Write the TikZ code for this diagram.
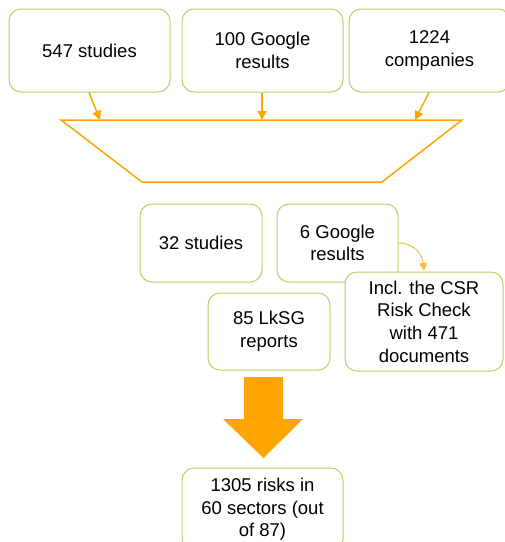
\documentclass[tikz,border=0pt]{standalone}
\usepackage{fontspec}
\setmainfont{Liberation Sans}
\usetikzlibrary{arrows.meta}
\definecolor{boxgreen}{RGB}{190,205,100}
\definecolor{orng}{RGB}{255,165,0}
\definecolor{lorng}{RGB}{255,185,70}
\begin{document}
\begin{tikzpicture}[x=1pt,y=1pt,
 box/.style={draw=boxgreen, line width=1pt, rounded corners=12pt, fill=white, align=center,
   font=\fontsize{18.5}{22.7}\selectfont, inner sep=0pt},
 arr/.style={draw=orng, line width=1.4pt, -{Triangle[length=9pt,width=9pt]}}]
\useasboundingbox (0,0) rectangle (505,-542);
\clip (0,0) rectangle (505,-542);
% top boxes
\node[box, minimum width=161pt, minimum height=83pt] (b1) at (89.5,-50.5) {547 studies};
\node[box, minimum width=161pt, minimum height=83pt] (b2) at (262.5,-50.5) {100 Google\\results};
\node[box, minimum width=161pt, minimum height=83pt] (b3) at (429.5,-50.5) {1224\\companies};
% funnel
\coordinate (t1) at (61,-120);
\coordinate (t2) at (462,-120);
\coordinate (t3) at (382,-182);
\coordinate (t4) at (142,-182);
\draw[orng, line width=1.5pt] (t1) -- (t2) -- (t3) -- (t4) -- cycle;
\coordinate (a1) at (100,-120);
\coordinate (a2) at (262,-120);
\coordinate (a3) at (415,-120);
\draw[arr] (b1.south -| 89,0) -- (a1);
\draw[arr] (b2.south -| 262,0) -- (a2);
\draw[arr] (b3.south -| 429,0) -- (a3);
% middle boxes
\node[box, minimum width=122pt, minimum height=78pt] (s32) at (201,-243) {32 studies};
\node[box, minimum width=121pt, minimum height=78pt] (g6) at (337.5,-243) {6 Google\\results};
\node[box, minimum width=122pt, minimum height=77pt] (lksg) at (269,-331.5) {85 LkSG\\reports};
\coordinate (ce) at (424,-271);
\draw[draw=lorng, line width=1pt, -{Triangle[length=8pt,width=8pt]}]
  (g6.east) .. controls (412,-243) and (422,-252) .. (ce);
\node[box, minimum width=158pt, minimum height=99pt] (incl) at (424,-321.5) {Incl. the CSR\\Risk Check\\with 471\\documents};
% big arrow
\fill[orng] (244,-377) -- (283,-377) -- (283,-419) -- (303,-419) -- (263.5,-458)
  -- (223,-419) -- (244,-419) -- cycle;
% bottom box
\node[box, minimum width=161pt, minimum height=83pt] (res) at (262.5,-509.5) {1305 risks in\\60 sectors (out\\of 87)};
\end{tikzpicture}
\end{document}
